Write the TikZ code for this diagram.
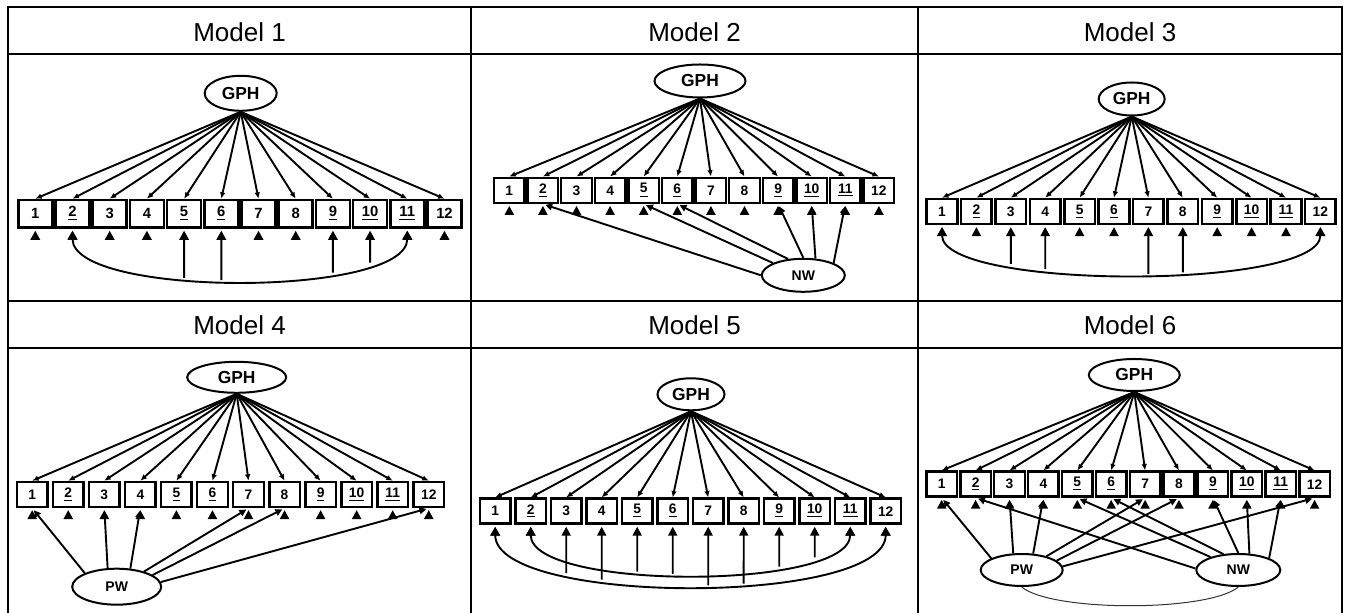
\documentclass[tikz,border=0pt]{standalone}
\usepackage{fontspec}
\setsansfont{Liberation Sans}
\usetikzlibrary{shapes.geometric, arrows.meta, intersections}
\tikzset{
    rule/.style={line width=1pt, line cap=rect},
    head/.style={inner sep=0pt, font=\sffamily\fontsize{13}{15}\selectfont},
    item/.style={rectangle, draw, line width=1.25pt, inner sep=0pt, minimum width=15.3pt, minimum height=12.5pt, font=\sffamily\bfseries\fontsize{6.9}{8}\selectfont},
    bigitem/.style={item, minimum width=17pt, minimum height=13.8pt, font=\sffamily\bfseries\fontsize{7.4}{8}\selectfont},
    latent/.style={ellipse, draw, line width=1pt, inner sep=0pt, font=\sffamily\bfseries\fontsize{8.7}{10}\selectfont},
    wording/.style={latent, font=\sffamily\bfseries\fontsize{7}{8}\selectfont},
    loading/.style={-{Latex[length=3.2pt,width=2.8pt]}, line width=0.95pt},
    method/.style={-{Triangle[length=3.4pt,width=3.4pt]}, line width=0.95pt, shorten >=1.3pt},
    corrarc/.style={{Triangle[length=4.3pt,width=4.8pt]}-{Triangle[length=4.3pt,width=4.8pt]}, line width=0.95pt, shorten <=1pt, shorten >=1pt},
    thinlink/.style={line width=0.5pt, black!80}
}
\def\gphitems{1/1,2/\underline{2},3/3,4/4,5/\underline{5},6/\underline{6},7/7,8/8,9/\underline{9},10/\underline{10},11/\underline{11},12/12}

\begin{document}
\begin{tikzpicture}[x=0.5pt,y=-0.5pt]
            \useasboundingbox (0,0) rectangle (1346,613);
            \foreach \y in {7,54,301,348} \draw[rule] (8,\y) -- (1342,\y);
            \foreach \x in {8,471,918,1342} \draw[rule] (\x,7) -- (\x,616);
            \node[head] (h1) at (239.5,32.3) {Model 1};
            \node[head] (h2) at (694.5,32.3) {Model 2};
            \node[head] (h3) at (1130,32.3) {Model 3};
            \node[head] (h4) at (239.5,325.6) {Model 4};
            \node[head] (h5) at (694.5,325.6) {Model 5};
            \node[head] (h6) at (1130,325.6) {Model 6};

            \node[latent, minimum width=36pt, minimum height=17.5pt] (m1g) at (240.7,93.3) {GPH};
            \foreach \i/\t in \gphitems {
                \node[bigitem] (m1b\i) at ({35.3+37.2*(\i-1)},213.8) {\t};
                \draw[loading] (m1g.south) -- (m1b\i.north);
                \fill (m1b\i.south) ++(0,2) -- ++(5,9) -- ++(-10,0) -- cycle;
            }
            \draw[corrarc, name path=a1] (m1b2.south) .. controls +(0,68.8) and +(0,68.8) .. (m1b11.south);
            \foreach \k in {5,6,9,10} {
                \path[name path=v] (m1b\k.south) -- ++(0,120);
                \draw[method, name intersections={of=a1 and v}] (intersection-1) -- (m1b\k.south);
            }

            \node[latent, minimum width=45.5pt, minimum height=16.5pt] (m2g) at (700,81) {GPH};
            \node[wording, minimum width=41.5pt, minimum height=16.5pt] (m2n) at (803.3,275.3) {NW};
            \foreach \i/\t in \gphitems {
                \node[item] (m2b\i) at ({509.3+33.6*(\i-1)},190.3) {\t};
                \draw[loading] (m2g.south) -- (m2b\i.north);
                \fill (m2b\i.south) ++(0,2) -- ++(4.8,8.8) -- ++(-9.6,0) -- cycle;
            }
            \draw[method] (m2n.180) -- (m2b2.south);
            \draw[method] (m2n.158) -- (m2b5.south);
            \draw[method] (m2n.133) -- (m2b6.south);
            \draw[method] (m2n.90) -- (m2b9.south);
            \draw[method] (m2n.54) -- (m2b10.south);
            \draw[method] (m2n.22) -- (m2b11.south);

            \node[latent, minimum width=33pt, minimum height=16.5pt] (m3g) at (1131.7,99) {GPH};
            \foreach \i/\t in \gphitems {
                \node[item] (m3b\i) at ({942+34.4*(\i-1)},211.5) {\t};
                \draw[loading] (m3g.south) -- (m3b\i.north);
                \fill (m3b\i.south) ++(0,2) -- ++(4.8,8.8) -- ++(-9.6,0) -- cycle;
            }
            \draw[corrarc, name path=a3] (m3b1.south) .. controls +(0,65) and +(0,65) .. (m3b12.south);
            \foreach \k in {3,4,7,8} {
                \path[name path=v] (m3b\k.south) -- ++(0,120);
                \draw[method, name intersections={of=a3 and v}] (intersection-1) -- (m3b\k.south);
            }

            \node[latent, minimum width=49.5pt, minimum height=15.5pt] (m4g) at (236.7,377.3) {GPH};
            \node[wording, minimum width=44.5pt, minimum height=18pt] (m4p) at (116.7,586.7) {PW};
            \foreach \i/\t in \gphitems {
                \node[item] (m4b\i) at ({32.2+36.05*(\i-1)},494.5) {\t};
                \draw[loading] (m4g.south) -- (m4b\i.north);
                \fill (m4b\i.south) ++(0,2) -- ++(4.8,8.8) -- ++(-9.6,0) -- cycle;
            }
            \draw[method] (m4p.157) -- (m4b1.south);
            \draw[method] (m4p.116) -- (m4b3.south);
            \draw[method] (m4p.53) -- (m4b4.south);
            \draw[method] (m4p.29) -- (m4b7.south);
            \draw[method] (m4p.18) -- (m4b8.south);
            \draw[method] (m4p.6) -- (m4b12.south);

            \node[latent, minimum width=33.5pt, minimum height=16pt] (m5g) at (691,394.3) {GPH};
            \foreach \i/\t in \gphitems {
                \node[item] (m5b\i) at ({495.2+35.5*(\i-1)},511.2) {\t};
                \draw[loading] (m5g.south) -- (m5b\i.north);
                \fill (m5b\i.south) ++(0,2) -- ++(4.8,8.8) -- ++(-9.6,0) -- cycle;
            }
            \draw[corrarc, name path=o5] (m5b1.south) .. controls +(0,81) and +(0,81) .. (m5b12.south);
            \draw[corrarc, name path=i5] (m5b2.south) .. controls +(0,65.7) and +(0,65.7) .. (m5b11.south);
            \foreach \k in {3,4,7,8} {
                \path[name path=v] (m5b\k.south) -- ++(0,120);
                \draw[method, name intersections={of=o5 and v}] (intersection-1) -- (m5b\k.south);
            }
            \foreach \k in {5,6,9,10} {
                \path[name path=v] (m5b\k.south) -- ++(0,120);
                \draw[method, name intersections={of=i5 and v}] (intersection-1) -- (m5b\k.south);
            }

            \node[latent, minimum width=45.5pt, minimum height=16pt] (m6g) at (1134.3,375) {GPH};
            \node[wording, minimum width=41pt, minimum height=16pt] (m6p) at (1021.7,570) {PW};
            \node[wording, minimum width=42pt, minimum height=16pt] (m6n) at (1238.3,570) {NW};
            \foreach \i/\t in \gphitems {
                \node[item] (m6b\i) at ({941.7+33.9*(\i-1)},484.2) {\t};
                \draw[loading] (m6g.south) -- (m6b\i.north);
                \fill (m6b\i.south) ++(0,2) -- ++(4.8,8.8) -- ++(-9.6,0) -- cycle;
            }
            \draw[method] (m6p.159) -- (m6b1.south);
            \draw[method] (m6p.117) -- (m6b3.south);
            \draw[method] (m6p.55) -- (m6b4.south);
            \draw[method] (m6p.29) -- (m6b7.south);
            \draw[method] (m6p.15) -- (m6b8.south);
            \draw[method] (m6p.5) -- (m6b12.south);
            \draw[method] (m6n.178) -- (m6b2.south);
            \draw[method] (m6n.155) -- (m6b5.south);
            \draw[method] (m6n.133) -- (m6b6.south);
            \draw[method] (m6n.90) -- (m6b9.south);
            \draw[method] (m6n.56) -- (m6b10.south);
            \draw[method] (m6n.21) -- (m6b11.south);
            \draw[thinlink] (m6p.south) .. controls +(30,25) and +(-30,25) .. (m6n.south);
        \end{tikzpicture}
\end{document}
